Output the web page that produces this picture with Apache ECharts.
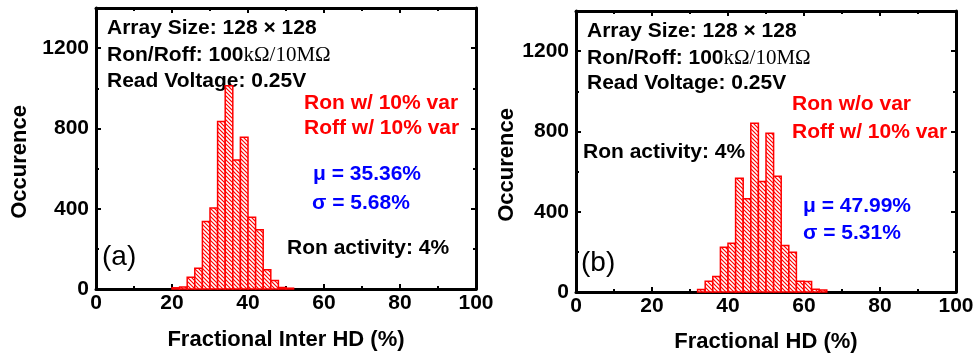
<!DOCTYPE html>
<html>
<head>
<meta charset="utf-8">
<script src="https://cdn.jsdelivr.net/npm/echarts@6/dist/echarts.min.js"></script>
<style>
  html, body { margin: 0; padding: 0; background: #ffffff; }
  #chart { width: 977px; height: 360px; }
</style>
</head>
<body>
<div id="chart"></div>
<script>
// Histogram bin width (percent) and bin left edges / counts for each panel
const binWidth = 2;

// (a) Fractional Inter HD, Ron and Roff both with 10% variation
const binStartsA = [20, 22, 24, 26, 28, 30, 32, 34, 36, 38, 40, 42, 44, 46, 48, 50];
const countsA    = [6, 10, 59, 104, 336, 404, 834, 1013, 643, 756, 358, 295, 96, 42, 8, 4];

// (b) Fractional HD, Ron without variation, Roff with 10% variation
const binStartsB = [32, 34, 36, 38, 40, 42, 44, 46, 48, 50, 52, 54, 56, 58, 60, 62, 64];
const countsB    = [12, 53, 77, 223, 243, 567, 464, 841, 550, 791, 577, 232, 198, 54, 52, 14, 10];

// Axis ranges and tick steps
const xRange = [0, 100];
const xStep = 20;
const yRange = [0, 1400];
const yStep = 400;

const FONT = "'Liberation Sans', Arial, sans-serif";
const SERIF = "'Liberation Serif', 'Times New Roman', serif";
const RED = '#ff0000';
const BLUE = '#0000ff';

// Red fill with white "\" hatching
function makeHatch() {
  const c = document.createElement('canvas');
  c.width = 4; c.height = 4;
  const g = c.getContext('2d');
  g.fillStyle = RED;
  g.fillRect(0, 0, 4, 4);
  g.strokeStyle = '#ffffff';
  g.lineWidth = 1.6;
  g.beginPath();
  for (const o of [-4, 0, 4]) { g.moveTo(o - 1, -1); g.lineTo(o + 5, 5); }
  g.stroke();
  return c;
}
const hatch = makeHatch();

function renderBin(params, api) {
  const x0 = api.value(0);
  const n = api.value(1);
  const p0 = api.coord([x0, 0]);
  const p1 = api.coord([x0 + binWidth, n]);
  return {
    type: 'rect',
    shape: { x: p0[0], y: p1[1], width: p1[0] - p0[0], height: p0[1] - p1[1] },
    style: { fill: { image: hatch, repeat: 'repeat' }, stroke: RED, lineWidth: 1.5 }
  };
}

const axisLine = { show: true, onZero: false, lineStyle: { color: '#000', width: 3 } };
const tickStyle = { color: '#000', width: 2 };

function xAxisDef(gridIndex, position, labels) {
  return {
    type: 'value', gridIndex, position,
    min: xRange[0], max: xRange[1], interval: xStep,
    axisLine,
    axisTick: { show: true, inside: true, length: 5, lineStyle: tickStyle },
    minorTick: { show: true, splitNumber: 2, length: 3, lineStyle: tickStyle },
    splitLine: { show: false },
    axisLabel: { show: labels, color: '#000', fontFamily: FONT, fontWeight: 'bold', fontSize: 21, margin: 4 }
  };
}
function yAxisDef(gridIndex, position, labels) {
  return {
    type: 'value', gridIndex, position,
    min: yRange[0], max: yRange[1], interval: yStep,
    axisLine,
    axisTick: { show: true, inside: true, length: 5, lineStyle: tickStyle },
    minorTick: { show: true, splitNumber: 2, length: 3, lineStyle: tickStyle },
    splitLine: { show: false },
    axisLabel: {
      show: labels, color: '#000', fontFamily: FONT, fontWeight: 'bold', fontSize: 21, margin: 7,
      formatter: v => (v % yStep === 0 ? String(v) : '')
    }
  };
}

function txt(x, y, text, color, extra) {
  return {
    type: 'text', x, y, silent: true,
    style: Object.assign({
      text, fill: color, font: 'bold 21px ' + FONT,
      align: 'left', verticalAlign: 'middle'
    }, extra || {})
  };
}
function ronRoff(x, y) {
  return {
    type: 'text', x, y, silent: true,
    style: {
      text: '{b|Ron/Roff: 100}{s|kΩ/10MΩ}',
      align: 'left', verticalAlign: 'middle',
      rich: {
        b: { fontFamily: FONT, fontWeight: 'bold', fontSize: 21, fill: '#000', color: '#000' },
        s: { fontFamily: SERIF, fontWeight: 'normal', fontSize: 21, fill: '#000', color: '#000' }
      }
    }
  };
}
function yName(x, y) {
  return {
    type: 'text', x, y, rotation: Math.PI / 2, silent: true,
    style: { text: 'Occurence', fill: '#000', font: 'bold 22px ' + FONT, align: 'center', verticalAlign: 'middle' }
  };
}
function xName(x, y, text) {
  return {
    type: 'text', x, y, silent: true,
    style: { text, fill: '#000', font: 'bold 22px ' + FONT, align: 'center', verticalAlign: 'middle' }
  };
}

const chart = echarts.init(document.getElementById('chart'), null, { renderer: 'canvas' });

chart.setOption({
  animation: false,
  backgroundColor: '#ffffff',
  grid: [
    { left: 96, top: 8, width: 380, height: 281 },
    { left: 576, top: 11, width: 380, height: 281 }
  ],
  xAxis: [
    xAxisDef(0, 'bottom', true), xAxisDef(0, 'top', false),
    xAxisDef(1, 'bottom', true), xAxisDef(1, 'top', false)
  ],
  yAxis: [
    yAxisDef(0, 'left', true), yAxisDef(0, 'right', false),
    yAxisDef(1, 'left', true), yAxisDef(1, 'right', false)
  ],
  series: [
    {
      type: 'custom', xAxisIndex: 0, yAxisIndex: 0, renderItem: renderBin,
      data: binStartsA.map((b, i) => [b, countsA[i]])
    },
    {
      type: 'custom', xAxisIndex: 2, yAxisIndex: 2, renderItem: renderBin,
      data: binStartsB.map((b, i) => [b, countsB[i]])
    }
  ],
  graphic: [
    // panel (a)
    txt(107, 28, 'Array Size: 128 × 128', '#000'),
    ronRoff(107, 55),
    txt(107, 81, 'Read Voltage: 0.25V', '#000'),
    txt(304, 103, 'Ron w/ 10% var', RED),
    txt(304, 128, 'Roff w/ 10% var', RED),
    txt(313, 174, 'μ = 35.36%', BLUE),
    txt(312, 203, 'σ = 5.68%', BLUE),
    txt(287, 248, 'Ron activity: 4%', '#000'),
    txt(102, 257, '(a)', '#000', { font: 'normal 28px ' + FONT }),
    yName(20, 162),
    xName(286, 340, 'Fractional Inter HD (%)'),
    // panel (b)
    txt(587, 31, 'Array Size: 128 × 128', '#000'),
    ronRoff(587, 58),
    txt(587, 83, 'Read Voltage: 0.25V', '#000'),
    txt(792, 104, 'Ron w/o var', RED),
    txt(792, 132, 'Roff w/ 10% var', RED),
    txt(583, 152, 'Ron activity: 4%', '#000'),
    txt(803, 206, 'μ = 47.99%', BLUE),
    txt(803, 233, 'σ = 5.31%', BLUE),
    txt(581, 263, '(b)', '#000', { font: 'normal 28px ' + FONT }),
    yName(507, 165),
    xName(766, 342, 'Fractional HD (%)')
  ]
});
</script>
</body>
</html>
